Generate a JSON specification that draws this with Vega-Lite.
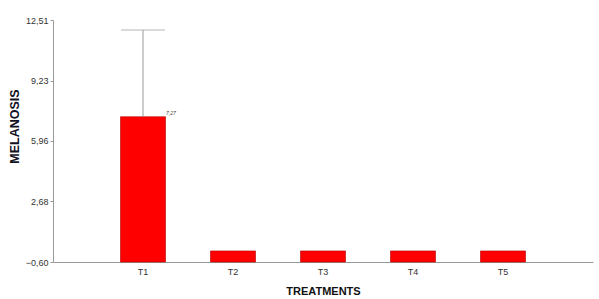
{
  "$schema": "https://vega.github.io/schema/vega-lite/v6.json",
  "autosize": "none",
  "width": 540,
  "height": 242,
  "padding": {"left": 53, "top": 20, "right": 6, "bottom": 37},
  "background": "white",
  "data": {"values": [
    {"treatment": "T1", "value": 7.27, "upper": 11.97, "label": "7,27"},
    {"treatment": "T2", "value": 0, "upper": null, "label": ""},
    {"treatment": "T3", "value": 0, "upper": null, "label": ""},
    {"treatment": "T4", "value": 0, "upper": null, "label": ""},
    {"treatment": "T5", "value": 0, "upper": null, "label": ""}
  ]},
  "encoding": {
    "x": {
      "field": "treatment", "type": "nominal", "sort": null,
      "scale": {"paddingInner": 0.5, "paddingOuter": 0.75},
      "axis": {
        "title": "TREATMENTS", "labelAngle": 0, "ticks": false,
        "domainColor": "#999999", "labelColor": "#333333", "labelFont": "Liberation Sans",
        "labelFontSize": 9, "labelPadding": 5,
        "titleFont": "Liberation Sans", "titleFontSize": 11, "titleFontWeight": "bold",
        "titleColor": "#111111", "titlePadding": 9
      }
    }
  },
  "layer": [
    {
      "mark": {"type": "bar", "color": "#ff0000", "stroke": "#b00000", "strokeWidth": 0.6},
      "encoding": {
        "y": {
          "field": "value", "type": "quantitative",
          "scale": {"domain": [-0.6, 12.51], "nice": false, "zero": false},
          "axis": {
            "title": "MELANOSIS", "values": [-0.6, 2.68, 5.96, 9.23, 12.51],
            "labelExpr": "replace(format(datum.value, '.2f'), '.', ',')",
            "grid": false, "tickSize": 3, "tickColor": "#999999", "domainColor": "#999999",
            "labelColor": "#333333", "labelFont": "Liberation Sans", "labelFontSize": 9,
            "labelPadding": 2,
            "titleFont": "Liberation Sans", "titleFontSize": 12.5, "titleFontWeight": "bold",
            "titleColor": "#111122", "titlePadding": 4, "titleY": 106
          }
        },
        "y2": {"datum": -0.6}
      }
    },
    {
      "mark": {"type": "rule", "color": "#999999", "strokeWidth": 1},
      "encoding": {
        "y": {"field": "value", "type": "quantitative"},
        "y2": {"field": "upper"}
      }
    },
    {
      "mark": {"type": "tick", "color": "#999999", "thickness": 1, "size": 44, "orient": "horizontal"},
      "encoding": {
        "y": {"field": "upper", "type": "quantitative"}
      }
    },
    {
      "mark": {"type": "text", "align": "left", "baseline": "bottom", "dx": 23, "dy": -1, "fontSize": 5, "font": "Liberation Sans", "fontStyle": "italic", "color": "#444444"},
      "encoding": {
        "y": {"field": "value", "type": "quantitative"},
        "text": {"field": "label"}
      }
    }
  ],
  "config": {"view": {"stroke": null}}
}
